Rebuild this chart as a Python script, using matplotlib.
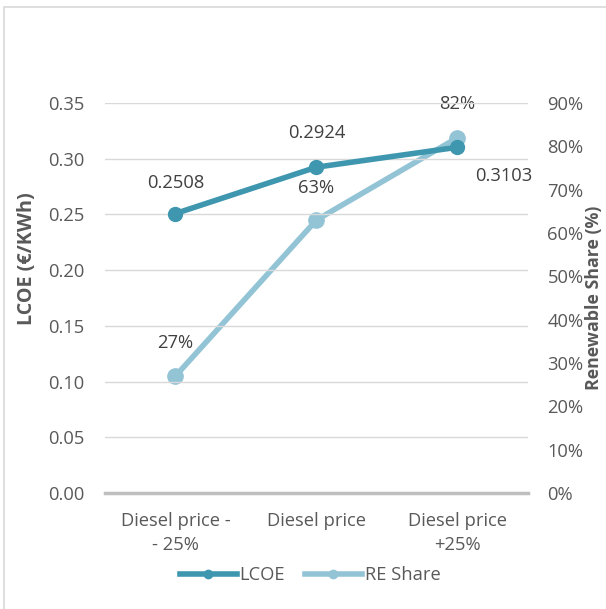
import matplotlib
matplotlib.use("Agg")
import matplotlib.pyplot as plt
from matplotlib.ticker import FixedLocator, FuncFormatter
from matplotlib.patches import Rectangle
from matplotlib.lines import Line2D

plt.rcParams['font.family'] = ['Open Sans', 'DejaVu Sans']

# ---- data ----
categories = ["Diesel price -\n- 25%", "Diesel price", "Diesel price\n+25%"]
lcoe = [0.2508, 0.2924, 0.3103]
re_share = [0.27, 0.63, 0.82]
lcoe_labels = ["0.2508", "0.2924", "0.3103"]
re_labels = ["27%", "63%", "82%"]
lcoe_ticks = [0.00, 0.05, 0.10, 0.15, 0.20, 0.25, 0.30, 0.35]
re_ticks = [0.0, 0.1, 0.2, 0.3, 0.4, 0.5, 0.6, 0.7, 0.8, 0.9]

# ---- style ----
C_LCOE = "#3F97AF"
C_RE = "#93C4D6"
C_TEXT = "#595959"
C_LABEL = "#404040"
C_GRID = "#D9D9D9"
C_AXIS = "#BFBFBF"
FS = 13.2

W, H = 606, 609
fig = plt.figure(figsize=(W / 100, H / 100), dpi=100)
fig.patch.set_facecolor("white")

# chart frame
fig.patches.append(Rectangle((4 / W, -0.1), 1.2, (H - 7) / H + 0.1,
                             transform=fig.transFigure, fill=False,
                             edgecolor="#D9D9D9", linewidth=1.2))

ax = fig.add_axes([105 / W, 116 / H, 423 / W, 390 / H])
ax2 = ax.twinx()

x = list(range(len(categories)))

ax.set_xlim(-0.5, len(categories) - 0.5)
ax.set_ylim(lcoe_ticks[0], lcoe_ticks[-1])
ax2.set_ylim(re_ticks[0], re_ticks[-1])

# gridlines from the primary axis
ax.yaxis.set_major_locator(FixedLocator(lcoe_ticks))
ax.yaxis.set_major_formatter(FuncFormatter(lambda v, p: f"{v:.2f}"))
ax.grid(axis="y", color=C_GRID, linewidth=1.0)
ax.set_axisbelow(True)

ax2.yaxis.set_major_locator(FixedLocator(re_ticks))
ax2.yaxis.set_major_formatter(FuncFormatter(lambda v, p: f"{v * 100:.0f}%"))

for a in (ax, ax2):
    for s in a.spines.values():
        s.set_visible(False)
    a.tick_params(length=0, labelsize=FS, colors=C_TEXT)

ax.spines["bottom"].set_visible(True)
ax.spines["bottom"].set_color(C_AXIS)
ax.spines["bottom"].set_linewidth(2.5)

ax.set_xticks(x)
ax.set_xticklabels(categories, fontsize=FS, color=C_TEXT, linespacing=1.4)
ax.tick_params(axis="x", pad=14)
ax.tick_params(axis="y", pad=15)
ax2.tick_params(axis="y", pad=14)

ax.set_ylabel("LCOE (€/KWh)", fontsize=14.2, fontweight="bold", color=C_TEXT)
ax.yaxis.set_label_coords(-0.16, 0.6)
ax2.set_ylabel("Renewable Share (%)", fontsize=12.8, fontweight="bold",
               color=C_TEXT)
ax2.yaxis.set_label_coords(1.135, 0.5)

# series
ax.plot(x, lcoe, color=C_LCOE, linewidth=4, marker="o", markersize=10,
        zorder=3, solid_capstyle="round")
ax2.plot(x, re_share, color=C_RE, linewidth=4, marker="o", markersize=11,
         zorder=3, solid_capstyle="round")

ax.set_zorder(ax2.get_zorder() + 1)
ax.patch.set_visible(False)

# data labels
lcoe_offsets = [(0, 31), (0, 34), (46, -29)]
re_offsets = [(0, 33), (0, 32), (0, 34)]
for xi, v, lab, off in zip(x, lcoe, lcoe_labels, lcoe_offsets):
    ax.annotate(lab, (xi, v), xytext=off, textcoords="offset pixels",
                ha="center", va="center", fontsize=FS, color=C_LABEL)
for xi, v, lab, off in zip(x, re_share, re_labels, re_offsets):
    ax2.annotate(lab, (xi, v), xytext=off, textcoords="offset pixels",
                 ha="center", va="center", fontsize=FS, color=C_LABEL)

# legend
handles = [
    Line2D([], [], color=C_LCOE, linewidth=4, marker="o", markersize=6),
    Line2D([], [], color=C_RE, linewidth=4, marker="o", markersize=6),
]
fig.legend(handles, ["LCOE", "RE Share"], loc="center",
           bbox_to_anchor=(310 / W, 1 - 575 / H), ncol=2, frameon=False,
           fontsize=FS, handlelength=3.1, handletextpad=0.15,
           columnspacing=1.1, labelcolor=C_TEXT)

fig.savefig("out.png", dpi=100, facecolor="white")
